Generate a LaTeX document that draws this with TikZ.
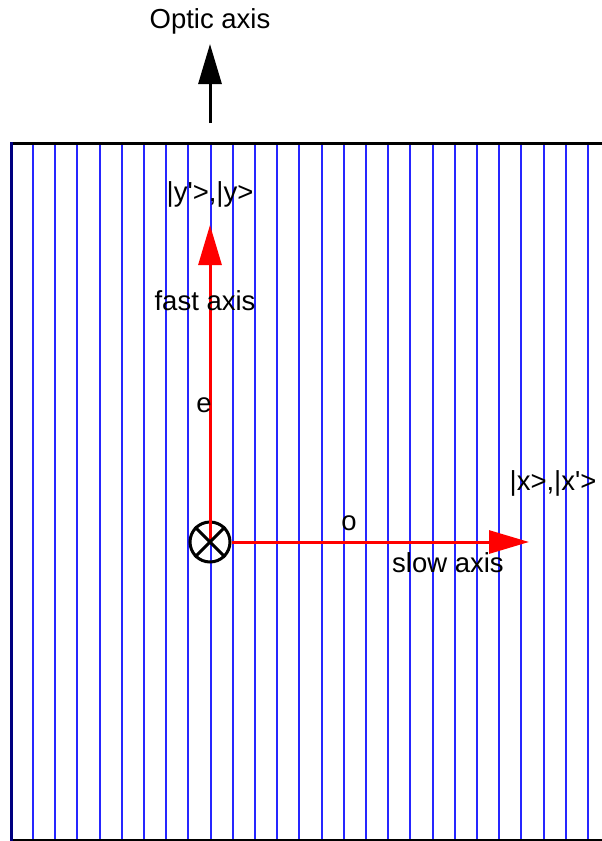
\documentclass[tikz,border=0pt]{standalone}
\usepackage{fontspec}
\setmainfont{Liberation Sans}
\usetikzlibrary{arrows.meta}
\begin{document}
\begin{tikzpicture}[x=1pt,y=-1pt,
  lbl/.style={inner sep=0pt,font=\fontsize{27.5}{32}\selectfont},
  grid/.style={blue!85!white,line width=2pt},
  redarrow/.style={red,line width=3pt,-{Triangle[length=40pt,width=23pt]}},
  blackarrow/.style={black,line width=3pt,-{Triangle[length=40pt,width=23pt]}}]
\useasboundingbox (0,0) rectangle (602,841);
% grid lines
\foreach \k in {0,...,25} {
  \draw[grid] ({33+22.2*\k},144) -- ({33+22.2*\k},841);
}
% box borders
\draw[black,line width=3pt] (11,143) -- (602,143);
\draw[black,line width=3pt] (11,840) -- (602,840);
\draw[blue!50!black,line width=3pt] (11,142) -- (11,841);
% optic axis
\node[lbl] (optic) at (210,21) {Optic axis};
\coordinate (opticbase) at (210,123);
\coordinate (optictip) at (210,44);
\draw[blackarrow] (opticbase) -- (optictip);
% center and arrows
\coordinate (c) at (210,542);
\node[circle,draw=black,line width=3pt,minimum size=40pt,inner sep=0pt] (circ) at (c) {};
\coordinate (ytip) at (210,225);
\coordinate (xtip) at (529,542);
\draw[redarrow] (c) -- (ytip);
\draw[redarrow] (circ.east) -- (xtip);
\draw[black,line width=3pt] (circ.45) -- (circ.225);
\draw[black,line width=3pt] (circ.135) -- (circ.315);
% labels
\node[lbl] (ylbl) at (210,194) {|y\textquotesingle>,|y>};
\node[lbl] (fast) at (205,301) {fast axis};
\node[lbl] (e) at (204,405) {e};
\node[lbl] (o) at (349,523) {o};
\node[lbl] (slow) at (448,563) {slow axis};
\node[lbl] (xlbl) at (553,483) {|x>,|x\textquotesingle>};
\end{tikzpicture}
\end{document}
